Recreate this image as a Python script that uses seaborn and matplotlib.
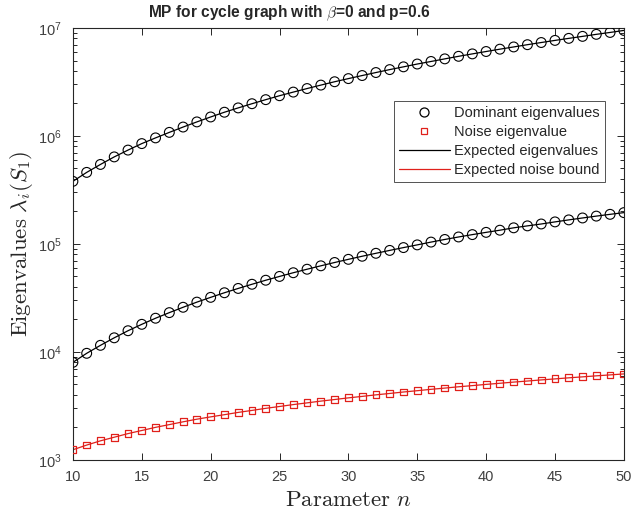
import matplotlib
matplotlib.use("Agg")
import matplotlib.pyplot as plt
from matplotlib.lines import Line2D
import seaborn as sns
import pandas as pd

# values
n = list(range(10, 51))
dominant_top = [3.8e5, 4.6e5, 5.45e5, 6.4e5, 7.4e5, 8.5e5, 9.6e5, 1.08e6, 1.21e6, 1.35e6,
                1.50e6, 1.66e6, 1.82e6, 1.99e6, 2.17e6, 2.36e6, 2.55e6, 2.75e6, 2.96e6, 3.18e6,
                3.40e6, 3.63e6, 3.87e6, 4.12e6, 4.37e6, 4.64e6, 4.90e6, 5.18e6, 5.47e6, 5.76e6,
                6.06e6, 6.37e6, 6.68e6, 7.01e6, 7.34e6, 7.68e6, 8.02e6, 8.37e6, 8.74e6, 9.10e6,
                9.5e6]
dominant_low = [8.0e3, 9.7e3, 1.15e4, 1.35e4, 1.57e4, 1.80e4, 2.05e4, 2.31e4, 2.59e4, 2.89e4,
                3.2e4, 3.53e4, 3.87e4, 4.23e4, 4.61e4, 5.0e4, 5.41e4, 5.83e4, 6.27e4, 6.73e4,
                7.2e4, 7.69e4, 8.19e4, 8.71e4, 9.25e4, 9.8e4, 1.04e5, 1.10e5, 1.16e5, 1.22e5,
                1.28e5, 1.34e5, 1.41e5, 1.47e5, 1.53e5, 1.60e5, 1.67e5, 1.74e5, 1.81e5, 1.88e5,
                1.95e5]
noise = [1240, 1370, 1500, 1620, 1750, 1870, 2000, 2120, 2250, 2380,
         2500, 2620, 2750, 2870, 3000, 3120, 3250, 3370, 3500, 3620,
         3750, 3870, 4000, 4120, 4250, 4370, 4500, 4620, 4750, 4870,
         5000, 5120, 5250, 5370, 5500, 5620, 5750, 5870, 6000, 6120,
         6250]

df = pd.DataFrame({'n': n, 'top': dominant_top, 'low': dominant_low, 'noise': noise})

sns.set_style('ticks')
plt.rcParams['font.family'] = ['Liberation Sans', 'DejaVu Sans']
plt.rcParams['mathtext.fontset'] = 'cm'

fig = plt.figure(figsize=(6.34, 5.19), dpi=100)
ax = fig.add_axes([0.115, 0.114, 0.869, 0.832])

red = '#e0201b'
# expected curves
sns.lineplot(x='n', y='top', data=df, color='black', lw=0.9, ax=ax)
sns.lineplot(x='n', y='low', data=df, color='black', lw=0.9, ax=ax)
sns.lineplot(x='n', y='noise', data=df, color=red, lw=0.9, ax=ax)
# measured eigenvalues
sns.scatterplot(x='n', y='top', data=df, marker='o', s=50, facecolors='none',
                edgecolors='black', linewidth=0.8, ax=ax, zorder=3)
sns.scatterplot(x='n', y='low', data=df, marker='o', s=50, facecolors='none',
                edgecolors='black', linewidth=0.8, ax=ax, zorder=3)
sns.scatterplot(x='n', y='noise', data=df, marker='s', s=24, facecolors='none',
                edgecolors=red, linewidth=0.9, ax=ax, zorder=3)

ax.set_yscale('log')
ax.set_xlim(10, 50)
ax.set_ylim(1e3, 1e7)
ax.set_xticks(range(10, 51, 5))
ax.tick_params(which='both', direction='in', top=True, right=True, colors='#262626',
               labelcolor='#404040', labelsize=10.5, width=0.7)
ax.tick_params(axis='x', pad=7)
ax.tick_params(axis='y', pad=8)
ax.tick_params(which='major', length=5)
ax.tick_params(which='minor', length=3)
for sp in ax.spines.values():
    sp.set_linewidth(0.8)
    sp.set_color('#262626')

ax.set_xlabel(r'$\mathrm{Parameter}\ n$', fontsize=16.5, labelpad=3)
ax.set_ylabel(r'$\mathrm{Eigenvalues}\ \lambda_i(S_1)$', fontsize=16.5, labelpad=2)
ax.set_title(r'MP for cycle graph with $\beta$=0 and p=0.6', fontsize=11.2,
             fontweight='bold', pad=8, x=0.392)

handles = [
    Line2D([], [], marker='o', ls='none', mfc='none', mec='black', ms=6.5, mew=0.9),
    Line2D([], [], marker='s', ls='none', mfc='none', mec=red, ms=5, mew=0.9),
    Line2D([], [], color='black', lw=0.9),
    Line2D([], [], color=red, lw=0.9),
]
labels = ['Dominant eigenvalues', 'Noise eigenvalue', 'Expected eigenvalues',
          'Expected noise bound']
leg = ax.legend(handles, labels, loc='upper right', bbox_to_anchor=(0.966, 0.832),
                fontsize=10.5, frameon=True, fancybox=False, edgecolor='#262626',
                handlelength=3.5, borderpad=0.35, labelspacing=0.35, handletextpad=0.3,
                borderaxespad=0)
leg.get_frame().set_linewidth(0.7)

plt.savefig('out.png', dpi=100)
